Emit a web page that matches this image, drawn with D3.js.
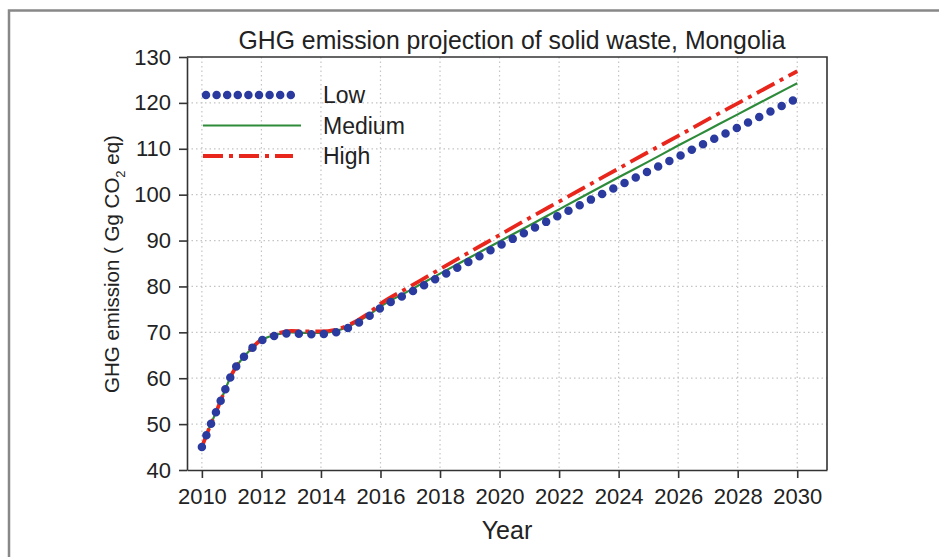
<!DOCTYPE html>
<html>
<head>
<meta charset="utf-8">
<style>
  body { margin: 0; background: #fff; }
  svg text { font-family: "Liberation Sans", Arial, sans-serif; fill: #222; }
</style>
</head>
<body>
<div id="chart"></div>
<script src="https://d3js.org/d3.v7.min.js"></script>
<script>
// values
var years = [2010, 2010.25, 2010.5, 2010.75, 2011, 2011.5, 2012, 2012.5, 2013, 2013.5, 2014, 2014.5, 2015, 2015.5,
             2016, 2017, 2018, 2019, 2020, 2021, 2022, 2023, 2024, 2025, 2026, 2027, 2028, 2029, 2030];
var lowValues    = [45.0, 49.2, 53.0, 57.0, 60.8, 65.3, 68.2, 69.3, 69.8, 69.6, 69.6, 70.0, 71.2, 73.0,
                    75.3, 78.7, 82.1, 85.5, 88.9, 92.2, 95.5, 98.7, 101.9, 105.1, 108.3, 111.5, 114.6, 117.8, 121.0];
var mediumValues = [45.0, 49.2, 53.0, 57.0, 60.8, 65.3, 68.3, 69.5, 70.0, 69.9, 69.9, 70.3, 71.5, 73.3,
                    75.6, 79.2, 82.8, 86.3, 89.8, 93.3, 96.8, 100.3, 103.8, 107.2, 110.7, 114.1, 117.5, 120.9, 124.3];
var highValues   = [45.0, 49.2, 53.0, 57.0, 60.8, 65.3, 68.4, 69.7, 70.3, 70.2, 70.2, 70.6, 71.8, 73.7,
                    76.2, 80.0, 83.8, 87.5, 91.2, 94.9, 98.5, 102.1, 105.7, 109.3, 112.8, 116.4, 119.9, 123.4, 126.9];
var seriesNames = ["Low", "Medium", "High"];
var xTicks = d3.range(2010, 2031, 2);
var yTicks = d3.range(40, 131, 10);

var W = 939, H = 557;
var svg = d3.select("#chart").append("svg")
    .attr("width", W)
    .attr("height", H);

// outer frame (only top and left edges are visible)
svg.append("path")
    .attr("d", "M9,557 V10.5 H939")
    .attr("fill", "none")
    .attr("stroke", "#888")
    .attr("stroke-width", 2.5);

var x = d3.scaleLinear().domain([2009.5, 2031]).range([187, 827]);
var y = d3.scaleLinear().domain([40, 130]).range([470, 57]);

// grid
var grid = svg.append("g").attr("stroke", "#c4c4c4").attr("stroke-width", 1.2).attr("stroke-dasharray", "1.5,3");
grid.selectAll(".vg").data(xTicks).enter().append("line")
    .attr("x1", function(d) { return x(d); }).attr("x2", function(d) { return x(d); })
    .attr("y1", y(130)).attr("y2", y(40));
grid.selectAll(".hg").data(yTicks.slice(1, -1)).enter().append("line")
    .attr("x1", x(2009.5)).attr("x2", x(2031))
    .attr("y1", function(d) { return y(d); }).attr("y2", function(d) { return y(d); });

// axes
var xAxis = svg.append("g")
    .attr("transform", "translate(0," + y(40) + ")")
    .call(d3.axisBottom(x).tickValues(xTicks).tickFormat(d3.format("d")).tickSizeInner(8).tickSizeOuter(0).tickPadding(10));
var yAxis = svg.append("g")
    .attr("transform", "translate(" + x(2009.5) + ",0)")
    .call(d3.axisLeft(y).tickValues(yTicks).tickSizeInner(8).tickSizeOuter(0).tickPadding(8));
[xAxis, yAxis].forEach(function(a) {
  a.selectAll("path, line").attr("stroke", "#333").attr("stroke-width", 1.6);
  a.selectAll("text").attr("font-size", 22).attr("fill", "#222")
      .style("font-family", "Liberation Sans, Arial, sans-serif");
});
// top and right sides of the box
svg.append("path")
    .attr("d", "M" + x(2009.5) + "," + y(130) + " H" + x(2031) + " V" + y(40))
    .attr("fill", "none").attr("stroke", "#333").attr("stroke-width", 1.6);

// lines
var line = d3.line()
    .x(function(d) { return x(d[0]); })
    .y(function(d) { return y(d[1]); })
    .curve(d3.curveMonotoneX);
function pairs(vals) { return years.map(function(yr, i) { return [yr, vals[i]]; }); }

var styles = {
  Low:    { color: "#2a3a9e", width: 8.5, dash: "0,12.5", cap: "round" },
  Medium: { color: "#2e8b3a", width: 2.2, dash: null,     cap: "butt" },
  High:   { color: "#e8261c", width: 3.8, dash: "20,6,4,6", cap: "butt" }
};
var seriesData = { Low: lowValues, Medium: mediumValues, High: highValues };

["Medium", "High", "Low"].forEach(function(name) {
  var s = styles[name];
  svg.append("path")
      .datum(pairs(seriesData[name]))
      .attr("d", line)
      .attr("fill", "none")
      .attr("stroke", s.color)
      .attr("stroke-width", s.width)
      .attr("stroke-linecap", s.cap)
      .attr("stroke-dasharray", s.dash);
});

// legend
var legend = svg.append("g");
seriesNames.forEach(function(name, i) {
  var s = styles[name];
  var ly = 95 + i * 30.5;
  legend.append("line")
      .attr("x1", name === "Low" ? 206 : 203).attr("x2", name === "Low" ? 291 : (name === "Medium" ? 301 : 293))
      .attr("y1", ly).attr("y2", ly)
      .attr("stroke", s.color)
      .attr("stroke-width", s.width)
      .attr("stroke-linecap", s.cap)
      .attr("stroke-dasharray", name === "Low" ? "0,10.6" : s.dash);
  legend.append("text")
      .attr("x", 323).attr("y", ly)
      .attr("dy", "0.36em")
      .attr("font-size", 23)
      .text(name);
});

// title
svg.append("text")
    .attr("x", 512).attr("y", 49)
    .attr("text-anchor", "middle")
    .attr("font-size", 25)
    .attr("textLength", 547)
    .attr("lengthAdjust", "spacingAndGlyphs")
    .text("GHG emission projection of solid waste, Mongolia");

// axis titles
svg.append("text")
    .attr("x", 507).attr("y", 539)
    .attr("text-anchor", "middle")
    .attr("font-size", 25)
    .text("Year");

var yt = svg.append("text")
    .attr("transform", "translate(119,264) rotate(-90)")
    .attr("text-anchor", "middle")
    .attr("font-size", 20.5);
yt.append("tspan").text("GHG emission ( Gg CO");
yt.append("tspan").attr("font-size", 13).attr("dy", 6).text("2");
yt.append("tspan").attr("dy", -6).text(" eq)");
</script>
</body>
</html>
